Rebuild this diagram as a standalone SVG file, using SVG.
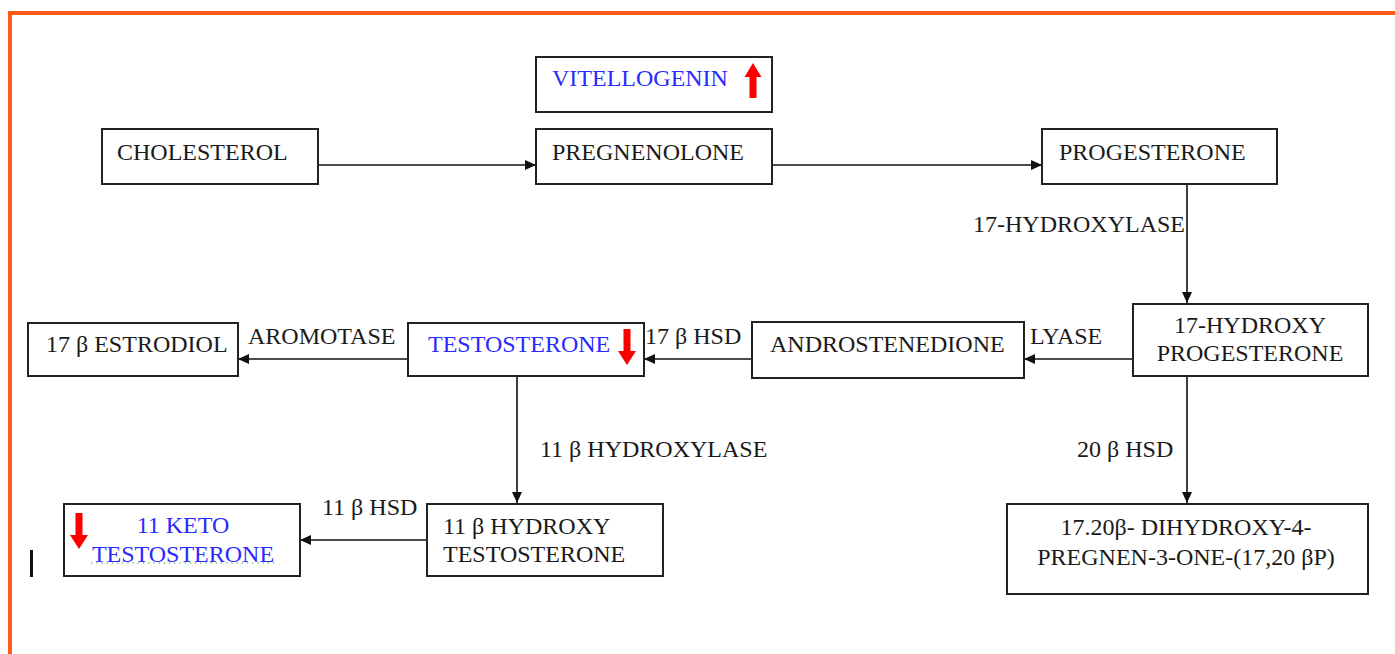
<svg xmlns="http://www.w3.org/2000/svg" width="1395" height="654" viewBox="0 0 1395 654">
<style>
.box{fill:#fff;stroke:#222;stroke-width:2}
.t{font-family:"Liberation Serif","Times New Roman",serif;font-size:24px;fill:#1a1a1a}
.b{fill:#2a2aff}
.c{text-anchor:middle}
.con{stroke:#111;stroke-width:1.6;fill:none;marker-end:url(#ah)}
.red{fill:#ff0000}
.sp{stroke:#2a9a2a;stroke-width:1.2;stroke-dasharray:1.2 4;fill:none}
</style>
<defs>
<marker id="ah" markerUnits="userSpaceOnUse" markerWidth="12" markerHeight="10" refX="11" refY="5" orient="auto">
<path d="M0,0 L11,5 L0,10 z" fill="#111"/>
</marker>
</defs>
<rect width="1395" height="654" fill="#fff"/>
<!-- orange frame -->
<path d="M10,654 V13 H1395" fill="none" stroke="#ff5a1a" stroke-width="4"/>

<g id="connectors">
<path class="con" d="M318,165 H536"/>
<path class="con" d="M772,165 H1042"/>
<path class="con" d="M1187,184 V303"/>
<path class="con" d="M1133,359 H1024"/>
<path class="con" d="M752,359 H644"/>
<path class="con" d="M408,359 H238"/>
<path class="con" d="M517,376 V503"/>
<path class="con" d="M1187,376 V503"/>
<path class="con" d="M427,540 H300"/>
</g>

<g id="labels">
<text class="t" x="973" y="232">17-HYDROXYLASE</text>
<text class="t" x="1030" y="344">LYASE</text>
<text class="t" x="645" y="344">17 β HSD</text>
<text class="t" x="248" y="344">AROMOTASE</text>
<text class="t" x="540" y="457">11 β HYDROXYLASE</text>
<text class="t" x="1077" y="457">20 β HSD</text>
<text class="t" x="322" y="515">11 β HSD</text>
</g>

<g id="vitellogenin">
<rect class="box" x="536" y="57" width="236" height="55"/>
<text class="t b" x="552" y="86">VITELLOGENIN</text>
<path class="red" d="M753,63 L761.5,77 L756.5,77 L756.5,98 L749.5,98 L749.5,77 L744.5,77 z"/>
</g>

<g id="cholesterol">
<rect class="box" x="102" y="129" width="216" height="55"/>
<text class="t" x="117" y="160">CHOLESTEROL</text>
</g>

<g id="pregnenolone">
<rect class="box" x="536" y="129" width="236" height="55"/>
<text class="t" x="552" y="160">PREGNENOLONE</text>
</g>

<g id="progesterone">
<rect class="box" x="1042" y="129" width="235" height="55"/>
<text class="t" x="1059" y="160">PROGESTERONE</text>
</g>

<g id="hydroxyprogesterone">
<rect class="box" x="1133" y="304" width="235" height="72"/>
<text class="t c" x="1250" y="333">17-HYDROXY</text>
<text class="t c" x="1250" y="361">PROGESTERONE</text>
</g>

<g id="androstenedione">
<rect class="box" x="752" y="322" width="272" height="56"/>
<text class="t" x="770" y="352">ANDROSTENEDIONE</text>
</g>

<g id="testosterone">
<rect class="box" x="408" y="323" width="236" height="53"/>
<text class="t b" x="428" y="352">TESTOSTERONE</text>
<path class="red" d="M627,365 L636,351 L630.5,351 L630.5,329 L623.5,329 L623.5,351 L618,351 z"/>
</g>

<g id="estrodiol">
<rect class="box" x="28" y="323" width="210" height="53"/>
<text class="t" x="46" y="352">17 β ESTRODIOL</text>
</g>

<g id="hydroxytestosterone">
<rect class="box" x="427" y="504" width="236" height="72"/>
<text class="t" x="443" y="534">11 β HYDROXY</text>
<text class="t" x="443" y="562">TESTOSTERONE</text>
</g>

<g id="ketotestosterone">
<rect class="box" x="64" y="504" width="236" height="72"/>
<text class="t b c" x="183" y="533">11 KETO</text>
<text class="t b c" x="183" y="562">TESTOSTERONE</text>
<path class="sp" d="M91,563 H274"/>
<path class="red" d="M79,549 L88,535 L82.5,535 L82.5,513 L75.5,513 L75.5,535 L70,535 z"/>
</g>

<g id="dihydroxypregnenone">
<rect class="box" x="1007" y="504" width="361" height="90"/>
<text class="t c" x="1186" y="535">17.20β- DIHYDROXY-4-</text>
<text class="t c" x="1186" y="565">PREGNEN-3-ONE-(17,20 βP)</text>
</g>

<rect x="30" y="550" width="3" height="27" fill="#111"/>
</svg>
